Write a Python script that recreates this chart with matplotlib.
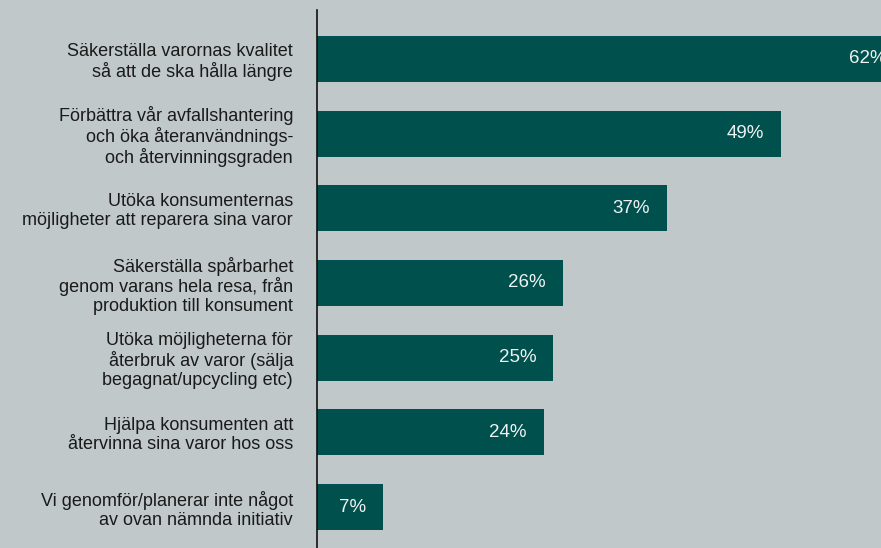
import matplotlib.pyplot as plt

categories = [
    "Säkerställa varornas kvalitet\nså att de ska hålla längre",
    "Förbättra vår avfallshantering\noch öka återanvändnings-\noch återvinningsgraden",
    "Utöka konsumenternas\nmöjligheter att reparera sina varor",
    "Säkerställa spårbarhet\ngenom varans hela resa, från\nproduktion till konsument",
    "Utöka möjligheterna för\nåterbruk av varor (sälja\nbegagnat/upcycling etc)",
    "Hjälpa konsumenten att\nåtervinna sina varor hos oss",
    "Vi genomför/planerar inte något\nav ovan nämnda initiativ",
]
values = [62, 49, 37, 26, 25, 24, 7]

bg = "#c0c8c9"
bar_color = "#00504d"


def main():
    plt.rcParams['font.family'] = ['Liberation Sans', 'DejaVu Sans']
    fig = plt.figure(figsize=(8.81, 5.48), dpi=100)
    fig.patch.set_facecolor(bg)
    ax = fig.add_axes([316.7 / 881, 0, 1 - 316.7 / 881, 1 - 10 / 548])
    ax.set_facecolor(bg)

    ypos = list(range(len(values)))
    ax.barh(ypos, values, height=0.616, color=bar_color, zorder=2)

    for y, v in zip(ypos, values):
        ax.annotate(f"{v}%", xy=(v, y), xytext=(-12.2, 0), textcoords="offset points",
                    ha="right", va="center", color="#eef2f2", fontsize=13.5,
                    annotation_clip=False)

    ax.set_xlim(0, 59.6)
    ax.set_ylim(6.549, -0.656)
    ax.set_yticks(ypos)
    ax.set_yticklabels(categories, fontsize=13, color="#1a1a1a", linespacing=1.12)
    ax.tick_params(axis="y", length=0, pad=17)
    ax.set_xticks([])
    for s in ["top", "right", "bottom"]:
        ax.spines[s].set_visible(False)
    ax.spines["left"].set_color("#111111")
    ax.spines["left"].set_linewidth(1.2)
    ax.spines["left"].set_zorder(3)

    plt.savefig("out.png", facecolor=bg)


if __name__ == '__main__':
    main()
